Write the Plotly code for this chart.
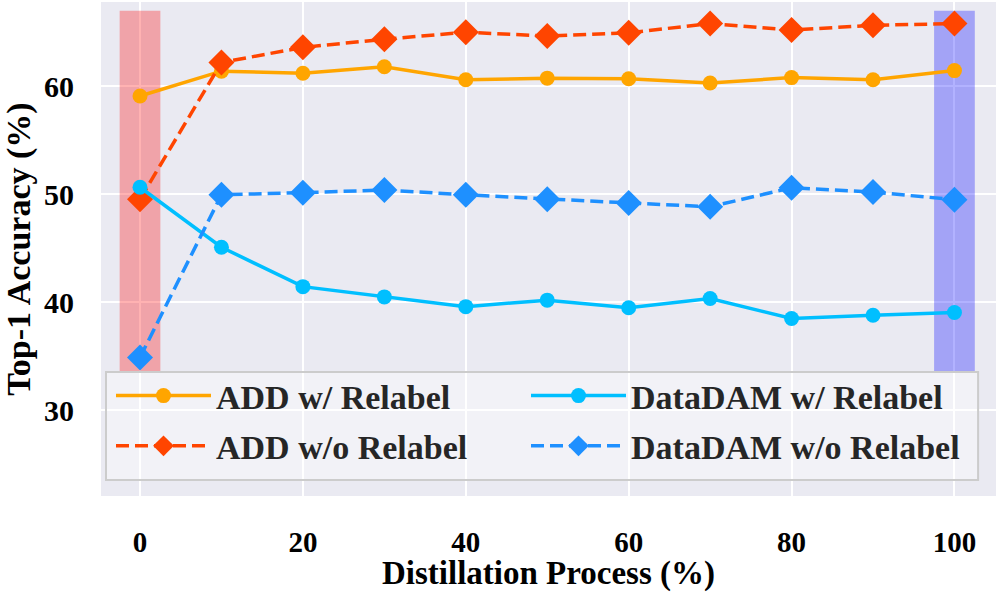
import plotly.graph_objects as go

x_vals = [0, 10, 20, 30, 40, 50, 60, 70, 80, 90, 100]
add_relabel = [59.1, 61.4, 61.2, 61.8, 60.6, 60.75, 60.7, 60.3, 60.8, 60.6, 61.45]
add_no_relabel = [49.55, 62.2, 63.6, 64.35, 65.0, 64.65, 64.95, 65.8, 65.2, 65.65, 65.8]
datadam_relabel = [50.65, 45.1, 41.45, 40.5, 39.6, 40.2, 39.5, 40.35, 38.5, 38.8, 39.05]
datadam_no_relabel = [34.9, 49.95, 50.15, 50.4, 49.95, 49.55, 49.2, 48.85, 50.6, 50.2, 49.5]

x_ticks = [0, 20, 40, 60, 80, 100]
y_ticks = [30, 40, 50, 60]

FONT = "Liberation Serif"

fig = go.Figure()

def add_series(name, y, color, dash, symbol, size, legend):
    fig.add_trace(go.Scatter(
        x=x_vals, y=y, name=f"<b>{name}</b>", mode="lines+markers",
        line=dict(color=color, width=3.5, dash=dash),
        marker=dict(color=color, symbol=symbol, size=size),
        legend=legend, legendgroup=name,
    ))

add_series("ADD w/ Relabel", add_relabel, "#FFA500", "solid", "circle", 15, "legend")
add_series("ADD w/o Relabel", add_no_relabel, "#FF4500", "13px,6px", "diamond", 20, "legend")
add_series("DataDAM w/ Relabel", datadam_relabel, "#00BFFF", "solid", "circle", 15, "legend2")
add_series("DataDAM w/o Relabel", datadam_no_relabel, "#1E90FF", "13px,6px", "diamond", 20, "legend2")

fig.add_shape(type="rect", xref="x", yref="y", x0=-2.5, x1=2.5, y0=33.5, y1=67.0,
              fillcolor="rgba(255,0,0,0.3)", line_width=0, layer="between")
fig.add_shape(type="rect", xref="x", yref="y", x0=97.5, x1=102.5, y0=33.5, y1=67.0,
              fillcolor="rgba(0,0,255,0.3)", line_width=0, layer="between")
# legend frame
fig.add_shape(type="rect", xref="paper", yref="paper", x0=0.0056, x1=0.98, y0=0.0324, y1=0.251,
              fillcolor="rgba(255,255,255,0.4)", line=dict(color="#CCCCCC", width=2), layer="above")

leg_common = dict(
    orientation="v", yanchor="top", xanchor="left", y=0.2611,
    bgcolor="rgba(0,0,0,0)", borderwidth=0,
    font=dict(size=34, family=FONT, color="#262626"),
    itemwidth=95, tracegroupgap=3, itemsizing="trace",
)

fig.update_layout(
    width=996, height=592,
    margin=dict(l=101, r=0, t=2, b=96),
    paper_bgcolor="white", plot_bgcolor="#EAEAF2",
    font=dict(family=FONT, color="black", size=28),
    xaxis=dict(
        range=[-4.79, 105.1], tickvals=x_ticks, ticktext=[f"<b>{t}</b>" for t in x_ticks],
        showgrid=True, gridcolor="white", gridwidth=2, zeroline=False,
        ticks="", ticklabelstandoff=26, tickfont=dict(size=29, family=FONT),
        title=dict(text="<b>Distillation Process (%)</b>", font=dict(size=33, family=FONT), standoff=10),
    ),
    yaxis=dict(
        range=[22.07, 67.8], tickvals=y_ticks, ticktext=[f"<b>{t}</b>" for t in y_ticks],
        showgrid=True, gridcolor="white", gridwidth=2, zeroline=False,
        ticks="", ticklabelstandoff=26, tickfont=dict(size=30, family=FONT),
        title=dict(text="<b>Top-1 Accuracy (%)</b>", font=dict(size=34, family=FONT), standoff=8),
    ),
    legend=dict(x=(111 - 101) / 895, **leg_common),
    legend2=dict(x=(526 - 101) / 895, **leg_common),
    showlegend=True,
)

fig.write_html("out.html")
